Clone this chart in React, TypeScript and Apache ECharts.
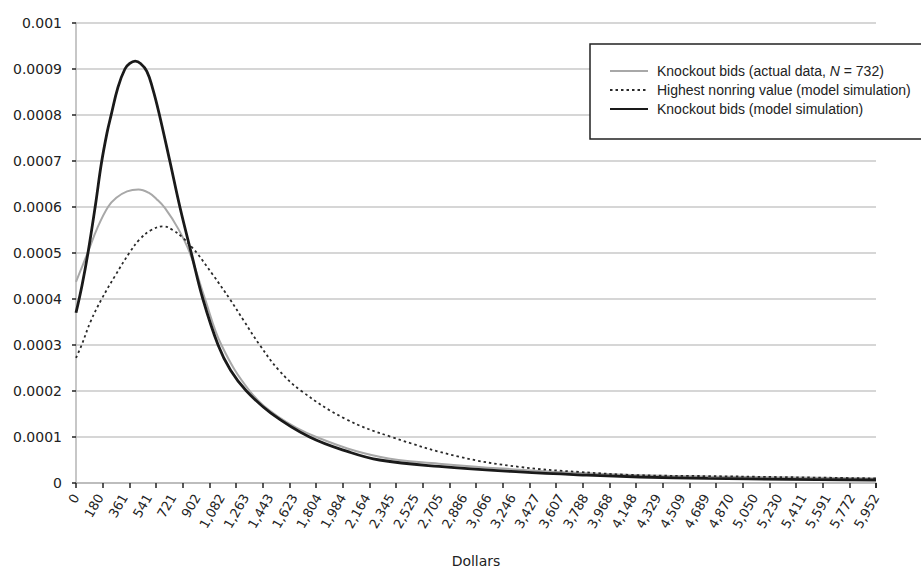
import React, { useEffect, useRef } from "react";
import * as echarts from "echarts";

// ---- data ----
const X_STEP = 180.36;
const xTickLabels = [
  "0", "180", "361", "541", "721", "902", "1,082", "1,263", "1,443", "1,623", "1,804", "1,984",
  "2,164", "2,345", "2,525", "2,705", "2,886", "3,066", "3,246", "3,427", "3,607", "3,788",
  "3,968", "4,148", "4,329", "4,509", "4,689", "4,870", "5,050", "5,230", "5,411", "5,591",
  "5,772", "5,952",
];
const yTickLabels = [
  "0", "0.0001", "0.0002", "0.0003", "0.0004", "0.0005", "0.0006", "0.0007", "0.0008", "0.0009", "0.001",
];

const SERIES_ACTUAL = "Knockout bids (actual data, N = 732)";
const SERIES_NONRING = "Highest nonring value (model simulation)";
const SERIES_MODEL = "Knockout bids (model simulation)";

const actualX = [0, 45, 89, 160, 238, 300, 380, 465, 540, 600, 661, 760, 847, 960, 1082, 1293, 1500, 1788, 2258, 2700, 3300, 3800, 4193, 4700, 5300, 5952];
const actualY = [
  0.000437, 0.00047, 0.000502, 0.000555, 0.0006, 0.00062, 0.000634, 0.000638, 0.000631, 0.000617,
  0.000598, 0.000553, 0.0005, 0.0004, 0.0003, 0.0002, 0.000145, 0.0001, 0.000057, 0.000042,
  0.000029, 0.000021, 0.000017, 0.000014, 0.000012, 0.00001,
];

const nonringX = [0, 42, 110, 191, 290, 401, 475, 560, 649, 720, 796, 870, 900, 1020, 1144, 1250, 1367, 1510, 1677, 2000, 2348, 2853, 3299, 3745, 4193, 4700, 5200, 5952];
const nonringY = [
  0.000272, 0.0003, 0.000352, 0.0004, 0.00045, 0.000502, 0.00053, 0.00055, 0.000558, 0.00055,
  0.000533, 0.00051, 0.0005, 0.000452, 0.0004, 0.000352, 0.0003, 0.000245, 0.0002, 0.00014,
  0.0001, 0.000057, 0.000035, 0.000024, 0.000017, 0.000015, 0.000013, 0.00001,
];

const modelX = [0, 45, 89, 145, 189, 230, 260, 312, 364, 400, 440, 480, 527, 570, 617, 698, 773, 862, 944, 1057, 1150, 1268, 1450, 1738, 2036, 2258, 2700, 3300, 3800, 4193, 4700, 5300, 5952];
const modelY = [
  0.00037, 0.00043, 0.0005, 0.000605, 0.000695, 0.00076, 0.000798, 0.00086, 0.0009, 0.000912, 0.000917,
  0.000912, 0.000895, 0.000858, 0.000805, 0.0007, 0.0006, 0.000495, 0.0004, 0.0003, 0.000245, 0.0002,
  0.000152, 0.0001, 0.000067, 0.00005, 0.000036, 0.000024, 0.000017, 0.000013, 0.00001, 0.000008,
  0.0000065,
];

const pairs = (xs: number[], ys: number[]) => xs.map((x, i) => [x, ys[i]]);

const FONT = "DejaVu Sans";
const LEGEND_FONT = "Liberation Sans";
const CLEAR = "rgba(0,0,0,0)";
const LEGEND_FS = 14;

export default function App() {
  const ref = useRef<HTMLDivElement>(null);
  useEffect(() => {
    if (!ref.current) return;
    const chart = echarts.init(ref.current, undefined, { renderer: "svg" });
    const xMax = X_STEP * (xTickLabels.length - 1);
    chart.setOption({
      animation: false,
      backgroundColor: "#ffffff",
      grid: { left: 76, right: 45, top: 23, bottom: 85, containLabel: false },
      legend: {
        orient: "vertical",
        left: 590,
        top: 44,
        padding: [20, 24, 23, 19],
        itemGap: 5,
        itemWidth: 38,
        itemHeight: 14,
        borderColor: "#222",
        borderWidth: 1.5,
        backgroundColor: "#fff",
        itemStyle: { opacity: 0 },
        data: [SERIES_ACTUAL, SERIES_NONRING, SERIES_MODEL],
        formatter: (name: string) =>
          name === SERIES_ACTUAL
            ? "{t|Knockout bids (actual data, }{i|N}{t| = 732)}"
            : "{t|" + name + "}",
        textStyle: {
          color: "#222",
          fontFamily: LEGEND_FONT,
          fontSize: LEGEND_FS,
          padding: [0, 0, 0, 4],
          rich: {
            t: { color: "#222", fontFamily: LEGEND_FONT, fontSize: LEGEND_FS },
            i: { color: "#222", fontFamily: LEGEND_FONT, fontSize: LEGEND_FS, fontStyle: "italic" },
          },
        },
      },
      xAxis: [
        {
          type: "value",
          min: 0,
          max: xMax,
          interval: X_STEP,
          position: "bottom",
          axisLine: { show: true, onZero: false, lineStyle: { color: "#b5b5b5", width: 1.5 } },
          axisTick: { show: false },
          splitLine: { show: false },
          axisLabel: {
            rotate: 60,
            margin: 12,
            color: "#222",
            fontFamily: FONT,
            fontSize: 13,
            showMinLabel: true,
            showMaxLabel: true,
            formatter: (v: number) => xTickLabels[Math.round(v / X_STEP)] ?? "",
          },
          name: "Dollars",
          nameLocation: "middle",
          nameGap: 71,
          nameTextStyle: { color: "#222", fontFamily: FONT, fontSize: 14 },
        },
        {
          type: "value",
          min: 0,
          max: xMax,
          interval: xMax / 30,
          position: "bottom",
          axisLine: { show: false, onZero: false },
          axisTick: { show: true, inside: false, length: 5, lineStyle: { color: "#222", width: 1.5 } },
          axisLabel: { show: false },
          splitLine: { show: false },
        },
      ],
      yAxis: {
        type: "value",
        min: 0,
        max: 0.001,
        interval: 0.0001,
        axisLine: { show: true, lineStyle: { color: "#b5b5b5", width: 1.5 } },
        axisTick: { show: true, length: 4, lineStyle: { color: "#222", width: 1.5 } },
        splitLine: { show: true, lineStyle: { color: "#c8c8c8", width: 1.5 } },
        axisLabel: {
          margin: 14,
          color: "#222",
          fontFamily: FONT,
          fontSize: 14,
          formatter: (v: number) => yTickLabels[Math.round(v / 0.0001)] ?? "",
        },
      },
      series: [
        {
          name: SERIES_ACTUAL,
          type: "line",
          xAxisIndex: 0,
          data: pairs(actualX, actualY),
          smooth: 0.4,
          symbol: "none",
          lineStyle: { color: "#a8a8a8", width: 2 },
          itemStyle: { color: CLEAR },
          z: 2,
        },
        {
          name: SERIES_NONRING,
          type: "line",
          xAxisIndex: 0,
          data: pairs(nonringX, nonringY),
          smooth: 0.4,
          symbol: "none",
          lineStyle: { color: "#2a2a2a", width: 1.8, type: [2.5, 3] },
          itemStyle: { color: CLEAR },
          z: 3,
        },
        {
          name: SERIES_MODEL,
          type: "line",
          xAxisIndex: 0,
          data: pairs(modelX, modelY),
          smooth: 0.4,
          symbol: "none",
          lineStyle: { color: "#1a1a1a", width: 2.8 },
          itemStyle: { color: CLEAR },
          z: 4,
        },
      ],
    });
    return () => chart.dispose();
  }, []);
  return (
    <div
      ref={ref}
      style={{ position: "absolute", left: 0, top: 0, width: 921, height: 573, background: "#fff" }}
    />
  );
}
